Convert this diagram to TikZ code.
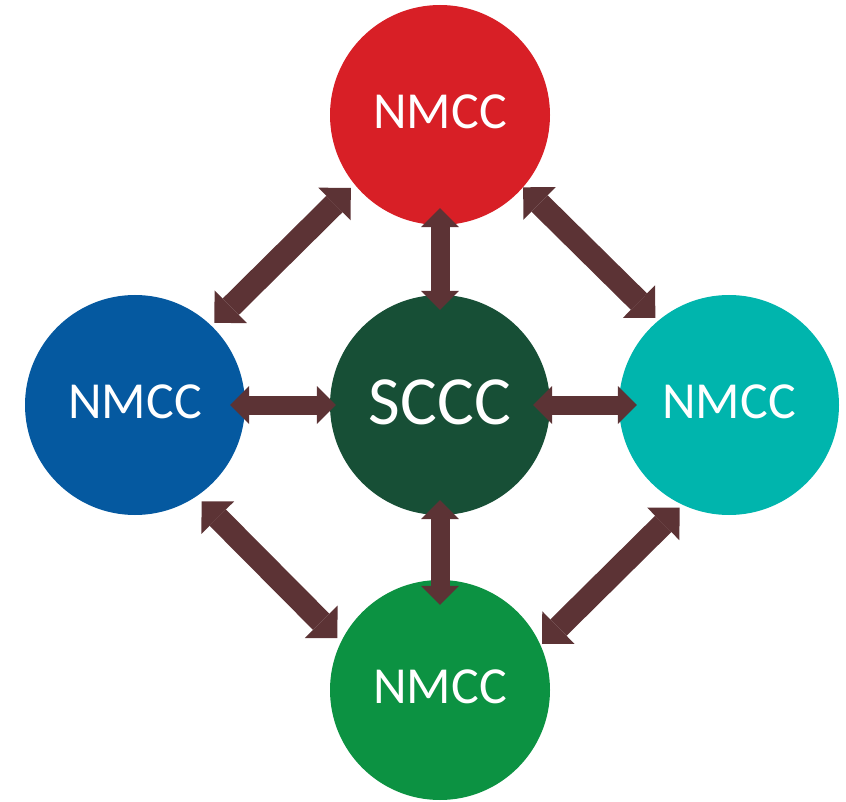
\documentclass[tikz,border=0pt]{standalone}
\usepackage{fontspec}
\setmainfont{Carlito}
\usetikzlibrary{arrows.meta}
\definecolor{cred}{HTML}{D81F26}
\definecolor{cblue}{HTML}{0559A0}
\definecolor{cdark}{HTML}{174F36}
\definecolor{cteal}{HTML}{00B5AD}
\definecolor{cgreen}{HTML}{0C9242}
\definecolor{carrow}{HTML}{5C3335}
\tikzset{
  hub/.style={circle, draw=none, minimum size=220pt, inner sep=0pt, text=white,
    font=\fontsize{52}{52}\selectfont},
  link/.style={draw=carrow, line width=19pt,
    {Triangle[width=38pt,length=19pt,line width=0pt]}-{Triangle[width=38pt,length=19pt,line width=0pt]}},
  dlink/.style={draw=carrow, line width=23pt,
    {Triangle[width=46pt,length=23pt,line width=0pt]}-{Triangle[width=46pt,length=23pt,line width=0pt]}}
}
\begin{document}
\begin{tikzpicture}[x=1pt,y=-1pt]
\useasboundingbox (0,0) rectangle (846,802);
\node[hub, fill=cred]  (T) at (440,115) {\raisebox{6pt}{NMCC}};
\node[hub, fill=cblue] (L) at (135,405) {\raisebox{6pt}{NMCC}};
\node[hub, fill=cdark, font=\fontsize{69}{69}\selectfont] (C) at (440,405) {\raisebox{6pt}{SCCC}};
\node[hub, fill=cteal] (R) at (729,405) {\raisebox{6pt}{NMCC}};
\node[hub, fill=cgreen] (B) at (440,690) {\raisebox{6pt}{NMCC}};
\draw[link, shorten <=-15pt, shorten >=-6pt] (L.east) -- (C.west);
\draw[link, shorten <=-17pt, shorten >=-18pt] (C.east) -- (R.west);
\draw[link, shorten <=-17pt, shorten >=-15pt] (T.south) -- (C.north);
\draw[link, shorten <=-15pt, shorten >=-25pt] (C.south) -- (B.north);
\draw[dlink, shorten <=4pt, shorten >=5pt] (L.46) -- (T.219);
\draw[dlink, shorten <=0pt, shorten >=4pt] (T.319) -- (R.130);
\draw[dlink, shorten <=7pt, shorten >=5pt] (L.304) -- (B.154);
\draw[dlink, shorten <=2pt, shorten >=4pt] (B.24) -- (R.245);
\end{tikzpicture}
\end{document}
